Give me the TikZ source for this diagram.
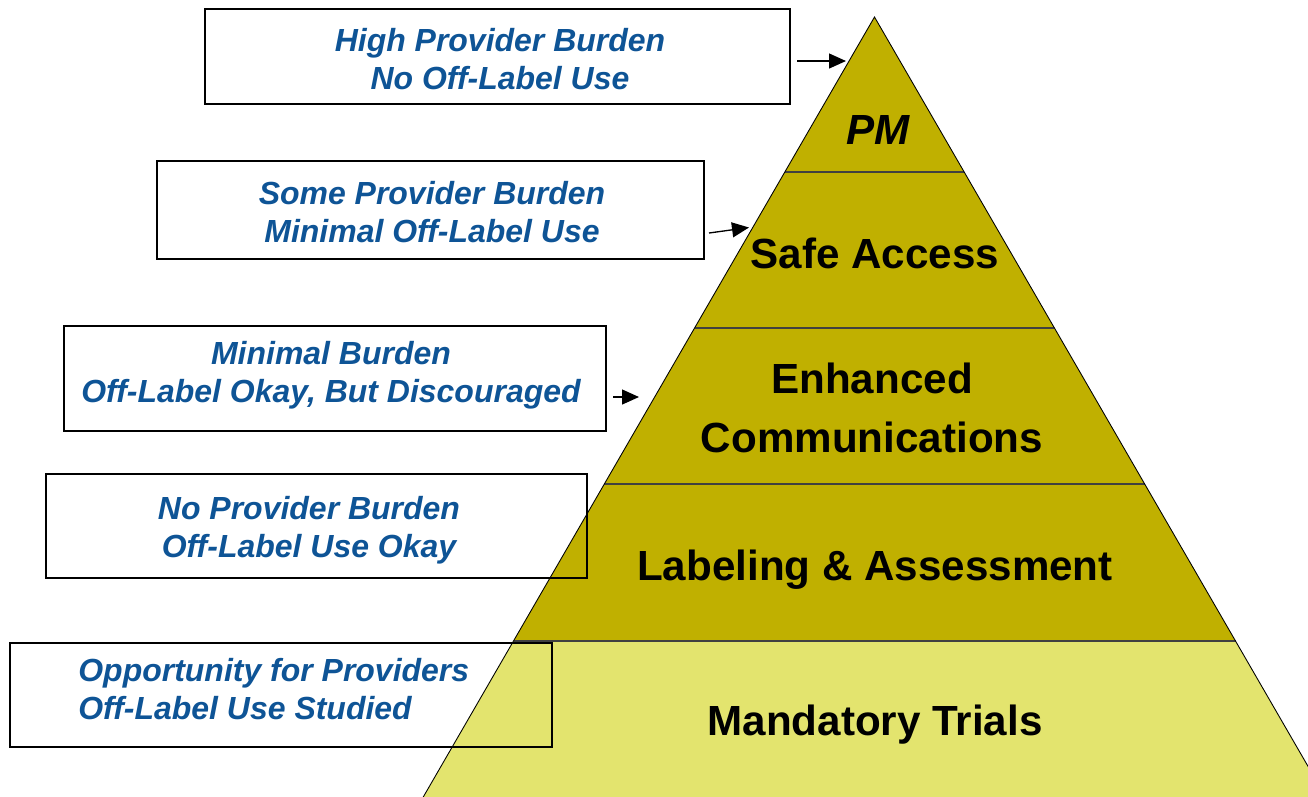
\documentclass[tikz,border=0pt]{standalone}
\usepackage{fontspec}
\setmainfont{Liberation Sans}
\usetikzlibrary{arrows.meta}
\definecolor{pyrdark}{RGB}{192,176,0}
\definecolor{pyrlight}{RGB}{227,228,110}
\definecolor{noteblue}{RGB}{14,84,150}
\begin{document}
\begin{tikzpicture}[x=0.02cm,y=-0.02cm,
  layer/.style={font=\fontsize{24}{34}\selectfont\bfseries, align=center, inner sep=0pt},
  notebox/.style={draw=black, line width=0.9pt, rectangle, inner sep=0pt},
  notetext/.style={font=\fontsize{18.2}{21.6}\selectfont\bfseries\itshape, text=noteblue, inner sep=0pt},
  divider/.style={draw=black!75, line width=1.2pt},
  pointer/.style={draw=black, line width=0.75pt, -{Triangle[length=0.34cm,width=0.3cm]}}]
\useasboundingbox (0,0) rectangle (1308,796);

% pyramid body, clipped to the page
\begin{scope}
  \clip (0,0) rectangle (1308,796);
  \fill[pyrdark] (874.5,17) -- (1235.5,641) -- (513.5,641) -- cycle;
  \fill[pyrlight] (513.5,641) -- (1235.5,641) -- (1327.5,800) -- (421.5,800) -- cycle;
  \draw[divider] (784.8,172) -- (964.2,172);
  \draw[divider] (694.6,328) -- (1054.4,328);
  \draw[divider] (604.3,484) -- (1144.7,484);
  \draw[divider] (513.5,641) -- (1235.5,641);
  \draw[black, line width=0.5pt] (421.5,800) -- (874.5,17) -- (1327.5,800);
\end{scope}

% tier labels
\node[layer] (pm) at (878,130) {\itshape PM};
\node[layer] (safe) at (875,253) {Safe Access};
\node[layer] (comm) at (872,408) {Enhanced\\Communications};
\node[layer] (label) at (875,570) {Labeling \& Assessment};
\node[layer] (trials) at (875,725) {Mandatory Trials};

% note boxes
\node[notebox, minimum width=11.7cm, minimum height=1.9cm] (b1) at (497.5,56.5) {};
\node[notebox, minimum width=10.94cm, minimum height=1.96cm] (b2) at (430.5,210) {};
\node[notebox, minimum width=10.84cm, minimum height=2.1cm] (b3) at (335,378.5) {};
\node[notebox, minimum width=10.82cm, minimum height=2.08cm] (b4) at (316.5,526) {};
\node[notebox, minimum width=10.84cm, minimum height=2.08cm] (b5) at (281,695) {};

\node[notetext, align=center] (t1) at (500,59) {High Provider Burden\\No Off-Label Use};
\node[notetext, align=center] (t2) at (432,212.5) {Some Provider Burden\\Minimal Off-Label Use};
\node[notetext, align=center] (t3) at (331,375) {Minimal Burden\\Off-Label Okay, But Discouraged};
\node[notetext, align=center] (t4) at (309,530.5) {No Provider Burden\\Off-Label Use Okay};
\node[notetext, align=left, anchor=west] (t5) at (78,689) {Opportunity for Providers\\Off-Label Use Studied};

% pointers from notes to the pyramid edge
\coordinate (p1s) at (797,61);
\coordinate (p1e) at (846,61);
\coordinate (p2s) at (709,233);
\coordinate (p2e) at (749,227.5);
\coordinate (p3s) at (613,397);
\coordinate (p3e) at (639,397);
\draw[pointer] (p1s) -- (p1e);
\draw[pointer] (p2s) -- (p2e);
\draw[pointer] (p3s) -- (p3e);
\end{tikzpicture}
\end{document}
